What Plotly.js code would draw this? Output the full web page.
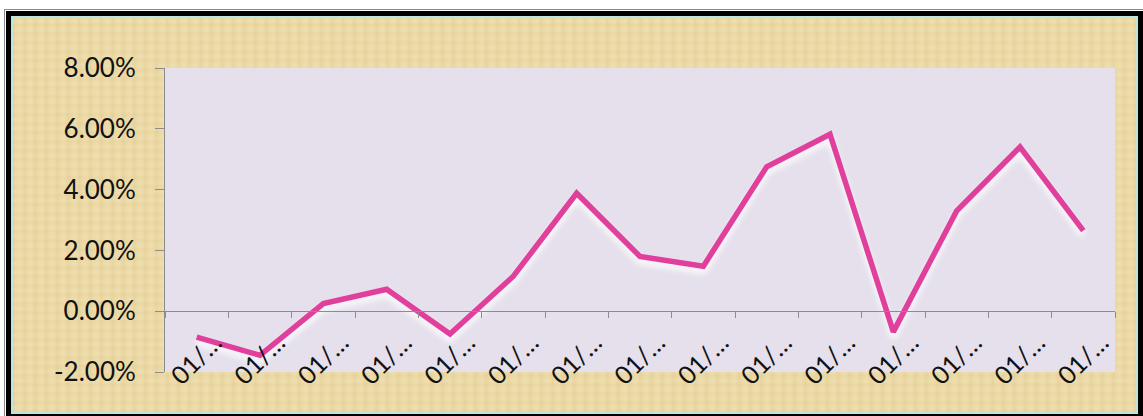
<!DOCTYPE html>
<html>
<head>
<meta charset="utf-8">
<script src="https://cdn.plot.ly/plotly-3.0.1.min.js"></script>
<style>
  html, body { margin:0; padding:0; background:#ffffff; width:1143px; height:416px; overflow:hidden; }
  #outer { position:absolute; left:4px; top:9px; width:1141px; height:412px; box-sizing:border-box;
           border:1px solid #8a8a8a; background:#fff; padding:1px; }
  #black { width:100%; height:100%; box-sizing:border-box; border:5px solid #000; }
  #parch { width:100%; height:100%; box-sizing:border-box; border:2px solid #bfe3dd;
           background:
             repeating-linear-gradient(90deg, rgba(170,130,50,0.08) 0px, rgba(170,130,50,0.0) 3px, rgba(255,245,215,0.12) 7px, rgba(170,130,50,0.05) 11px),
             repeating-linear-gradient(0deg, rgba(170,130,50,0.06) 0px, rgba(255,248,220,0.08) 4px, rgba(170,130,50,0.04) 9px),
             #ecdaa6; }
  #chart { position:absolute; left:0; top:0; width:1143px; height:416px; }
  #chart .scatterlayer .trace path.js-line { filter: drop-shadow(0px 5px 3px rgba(255,255,255,0.95)); }
</style>
</head>
<body>
<div id="outer"><div id="black"><div id="parch"></div></div></div>
<div id="chart"></div>
<script>
const categories = ["01/…","01/…","01/…","01/…","01/…","01/…","01/…","01/…","01/…","01/…","01/…","01/…","01/…","01/…","01/…"];
const values = [-0.85, -1.45, 0.25, 0.72, -0.75, 1.15, 3.88, 1.80, 1.48, 4.75, 5.82, -0.68, 3.30, 5.40, 2.65];
const yTickVals = [-2, 0, 2, 4, 6, 8];
const yTickText = ["-2.00%", "0.00%", "2.00%", "4.00%", "6.00%", "8.00%"];

const xIdx = categories.map((c, i) => i + 1);

const trace = {
  x: xIdx,
  y: values,
  type: 'scatter',
  mode: 'lines',
  line: { color: '#e0409b', width: 5.5 },
  hoverinfo: 'skip'
};

const ymin = -2, ymax = 8;
const layout = {
  width: 1143, height: 416,
  margin: { l: 165, r: 28, t: 68, b: 44, pad: 0 },
  paper_bgcolor: 'rgba(0,0,0,0)',
  plot_bgcolor: '#e5e0ec',
  showlegend: false,
  font: { family: 'Lato, "Open Sans", sans-serif', color: '#1a1a1a' },
  xaxis: {
    range: [0.5, categories.length + 0.5],
    tickvals: xIdx,
    ticktext: categories,
    tickangle: -45,
    ticks: '',
    showgrid: false,
    zeroline: false,
    showline: true,
    linecolor: '#8c8c8c',
    linewidth: 1,
    anchor: 'free',
    position: (0 - ymin) / (ymax - ymin),
    tickfont: { size: 25, color: '#111' },
    ticklabelshift: 18,
    ticklabelstandoff: 6,
    minor: { tick0: 0.5, dtick: 1, ticks: 'outside', ticklen: 6, tickcolor: '#8c8c8c', tickwidth: 1, showgrid: false }
  },
  yaxis: {
    range: [ymin, ymax],
    tickvals: yTickVals,
    ticktext: yTickText,
    ticks: 'outside',
    ticklen: 9,
    tickcolor: '#8c8c8c',
    showgrid: false,
    zeroline: false,
    showline: true,
    linecolor: '#8c8c8c',
    linewidth: 1,
    tickfont: { size: 26, color: '#111' },
    ticklabelstandoff: 14
  }
};

Plotly.newPlot('chart', [trace], layout, { displayModeBar: false, staticPlot: true });
</script>
</body>
</html>
